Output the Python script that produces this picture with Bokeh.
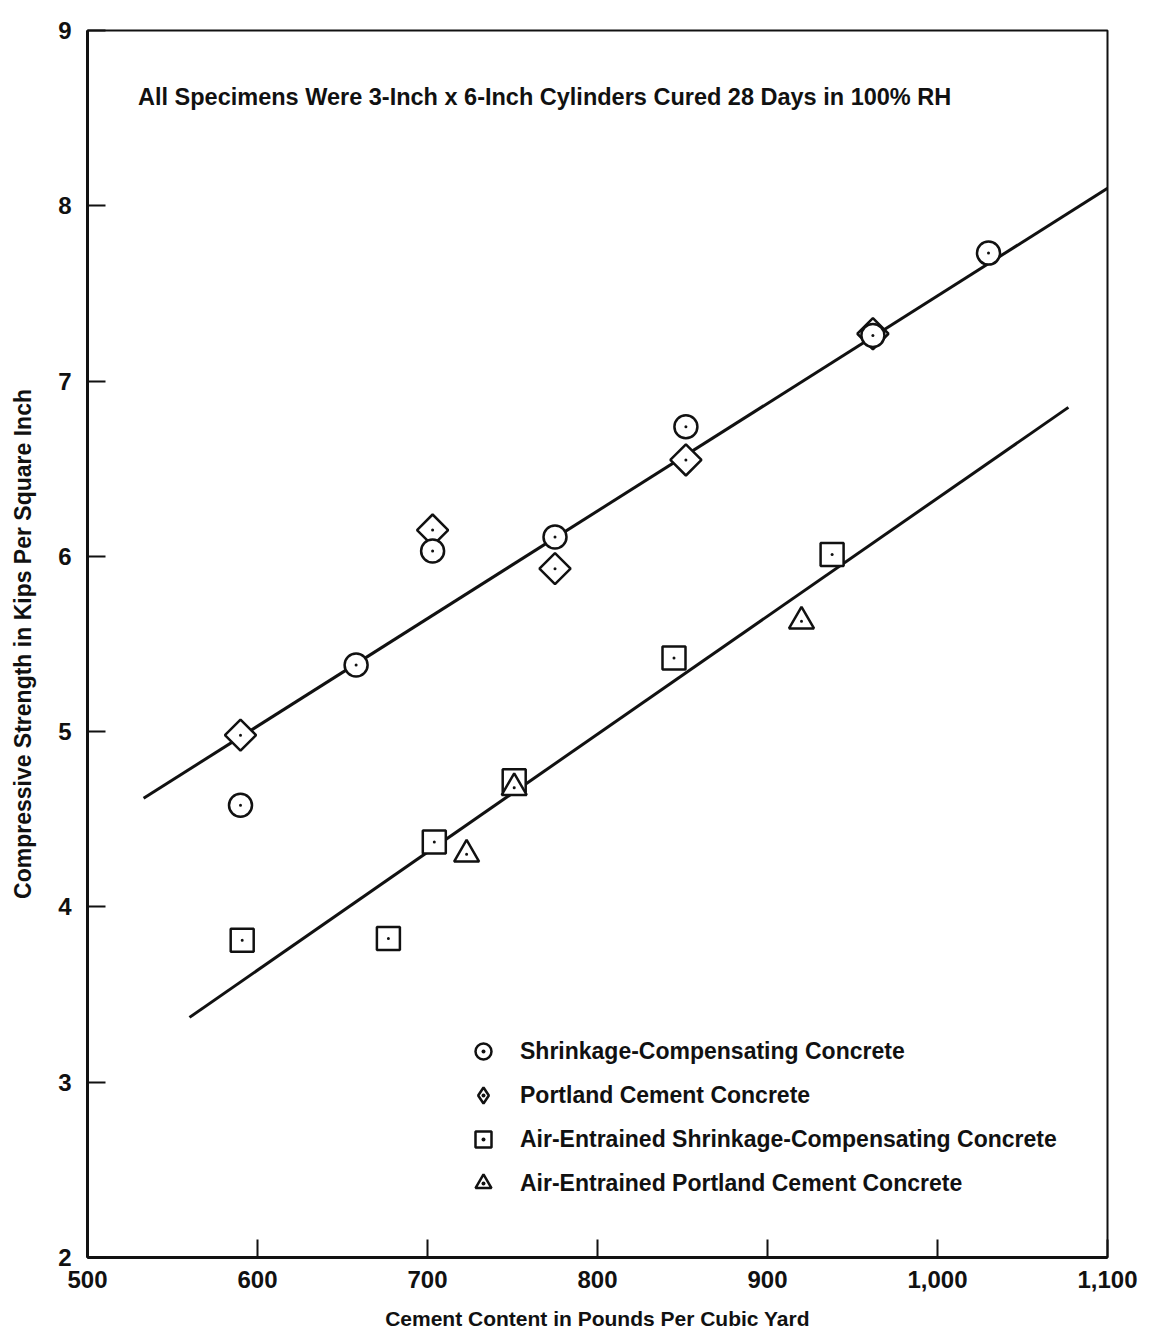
import math

from bokeh.plotting import figure
from bokeh.models import (Range1d, FixedTicker, NumeralTickFormatter, Label,
                          Legend, LegendItem)
from bokeh.embed import file_html
from bokeh.resources import INLINE

# Cement content (lb/yd^3) and 28-day compressive strength (ksi)
cement_sc = [590, 658, 703, 775, 852, 962, 1030]
strength_sc = [4.58, 5.38, 6.03, 6.11, 6.74, 7.26, 7.73]

cement_pc = [590, 703, 775, 852, 962]
strength_pc = [4.98, 6.15, 5.93, 6.55, 7.27]

cement_aesc = [591, 677, 704, 751, 845, 938]
strength_aesc = [3.81, 3.82, 4.37, 4.72, 5.42, 6.01]

cement_aepc = [723, 751, 920]
strength_aepc = [4.30, 4.68, 5.63]

# Trend lines: non-air-entrained (upper) and air-entrained (lower)
fit_upper_x = [533, 1100]
fit_upper_y = [4.62, 8.10]
fit_lower_x = [560, 1077]
fit_lower_y = [3.37, 6.85]

x_ticks = [500, 600, 700, 800, 900, 1000, 1100]
y_ticks = [2, 3, 4, 5, 6, 7, 8, 9]

FONT = "Liberation Sans"
INK = "#111111"

p = figure(width=1157, height=1334,
           x_range=Range1d(500, 1100), y_range=Range1d(2, 9),
           output_backend="svg", toolbar_location=None,
           min_border_left=87, min_border_right=50,
           min_border_top=30, min_border_bottom=77)

p.background_fill_color = "white"
p.border_fill_color = "white"
p.outline_line_color = INK
p.outline_line_width = 2
p.xgrid.visible = False
p.ygrid.visible = False

for ax in (p.xaxis[0], p.yaxis[0]):
    ax.axis_line_color = INK
    ax.axis_line_width = 3
    ax.major_tick_in = 18
    ax.major_tick_out = 0
    ax.major_tick_line_width = 2
    ax.major_tick_line_color = INK
    ax.minor_tick_line_color = None
    ax.major_label_text_font = FONT
    ax.major_label_text_font_style = "bold"
    ax.major_label_text_font_size = "24px"
    ax.major_label_text_color = INK
    ax.axis_label_text_font = FONT
    ax.axis_label_text_font_style = "bold"
    ax.axis_label_text_color = INK

p.xaxis.ticker = FixedTicker(ticks=x_ticks)
p.xaxis.formatter = NumeralTickFormatter(format="0,0")
p.xaxis.major_label_standoff = 13
p.xaxis.axis_label = "Cement Content in Pounds Per Cubic Yard"
p.xaxis.axis_label_text_font_size = "21px"
p.xaxis.axis_label_standoff = 16

p.yaxis.ticker = FixedTicker(ticks=y_ticks)
p.yaxis.major_label_standoff = 16
p.yaxis.axis_label = "Compressive Strength in Kips Per Square Inch"
p.yaxis.axis_label_text_font_size = "23px"
p.yaxis.axis_label_standoff = 19

# Trend lines
p.line(fit_upper_x, fit_upper_y, line_color=INK, line_width=3)
p.line(fit_lower_x, fit_lower_y, line_color=INK, line_width=3)

MARK = dict(fill_color="white", line_color=INK, line_width=2.5)

# Portland key shape: a plain diamond sitting underneath each rotated-square
# marker (fully covered by it); legend glyphs are drawn unrotated, so this
# renderer provides the diamond shown in the legend
pc_key = p.scatter(cement_pc, strength_pc, marker="diamond", size=28, **MARK)

# Data points: open marker with a small centre dot
def series(xs, ys, marker, size, angle=0.0):
    shape = p.scatter(xs, ys, marker=marker, size=size, angle=angle, **MARK)
    dot = p.scatter(xs, ys, marker="dot", size=12, line_color=INK)
    return [shape, dot]

r_pc = series(cement_pc, strength_pc, "square", 22, math.pi / 4)
r_sc = series(cement_sc, strength_sc, "circle", 23)
r_aesc = series(cement_aesc, strength_aesc, "square", 23)
r_aepc = series(cement_aepc, strength_aepc, "triangle", 25)

legend = Legend(items=[
    LegendItem(label="Shrinkage-Compensating Concrete", renderers=r_sc),
    LegendItem(label="Portland Cement Concrete", renderers=[pc_key, r_pc[1]]),
    LegendItem(label="Air-Entrained Shrinkage-Compensating Concrete", renderers=r_aesc),
    LegendItem(label="Air-Entrained Portland Cement Concrete", renderers=r_aepc),
], location=(376, 54))
legend.border_line_color = None
legend.background_fill_alpha = 0
legend.padding = 0
legend.margin = 0
legend.spacing = 4
legend.glyph_width = 40
legend.glyph_height = 40
legend.label_standoff = 17
legend.label_text_font = FONT
legend.label_text_font_style = "bold"
legend.label_text_font_size = "23px"
legend.label_text_color = INK
p.add_layout(legend, "center")

note = Label(x=529.7, y=8.62,
             text="All Specimens Were 3-Inch x 6-Inch Cylinders Cured 28 Days in 100% RH",
             text_font=FONT, text_font_style="bold", text_font_size="23.5px",
             text_color=INK, text_align="left", text_baseline="middle")
p.add_layout(note)

open("out.html", "w").write(file_html(p, INLINE))
